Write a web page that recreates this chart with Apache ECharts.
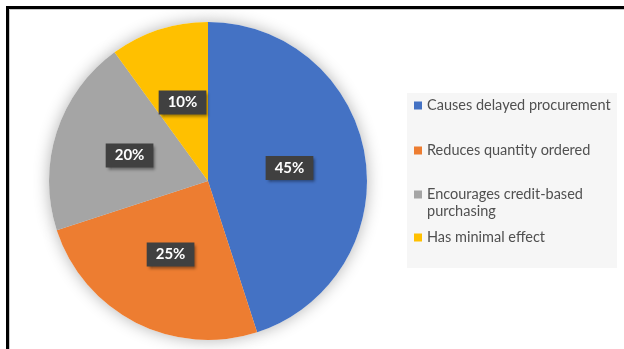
<!DOCTYPE html>
<html>
<head>
<meta charset="utf-8">
<script src="https://cdn.jsdelivr.net/npm/echarts@6/dist/echarts.min.js"></script>
<style>
  html, body { margin: 0; padding: 0; background: #fff; }
  #chart { width: 624px; height: 349px; }
</style>
</head>
<body>
<div id="chart"></div>
<script>
// Survey responses: effect on purchasing
const categories = [
  'Causes delayed procurement',
  'Reduces quantity ordered',
  'Encourages credit-based\npurchasing',
  'Has minimal effect'
];
const shares = [45, 25, 20, 10];
const colors = ['#4472C4', '#ED7D31', '#A5A5A5', '#FFC000'];
const legendTops = [97, 142, 169, 229];

const pieData = categories.map((name, i) => ({ name, value: shares[i] }));
const FONT = 'Lato, "Open Sans", sans-serif';

// Two-line entries keep the swatch beside their first line: an empty
// leading line makes the first text line the vertical middle of the item.
const legends = categories.map((name, i) => ({
  orient: 'vertical',
  left: 414,
  top: legendTops[i],
  padding: 0,
  itemWidth: 8,
  itemHeight: 8,
  itemGap: 0,
  icon: 'rect',
  selectedMode: false,
  data: [name],
  formatter: n => (n.indexOf('\n') >= 0 ? ' \n' + n : n),
  textStyle: {
    fontFamily: FONT,
    fontSize: 14.5,
    lineHeight: 17,
    color: '#505050'
  }
}));

const chart = echarts.init(document.getElementById('chart'), null, { renderer: 'canvas' });
chart.setOption({
  animation: false,
  backgroundColor: '#fff',
  color: colors,
  graphic: [
    { type: 'rect', z: 0, silent: true,
      shape: { x: 407, y: 93, width: 210, height: 175 },
      style: { fill: '#f6f6f6' } },
    { type: 'rect', z: 100, silent: true,
      shape: { x: 9.5, y: 9.5, width: 800, height: 600 },
      style: { fill: 'none', stroke: '#c8c8c8', lineWidth: 1 } },
    { type: 'rect', z: 101, silent: true,
      shape: { x: 7.5, y: 7.5, width: 800, height: 600 },
      style: { fill: 'none', stroke: '#000', lineWidth: 3 } }
  ],
  legend: legends,
  series: [
    {
      // soft shadow underneath the pie
      type: 'pie',
      silent: true,
      z: 1,
      center: [208, 181],
      radius: 159,
      startAngle: 90,
      label: { show: false },
      labelLine: { show: false },
      legendHoverLink: false,
      data: shares.map(v => ({ value: v })),
      itemStyle: {
        color: '#fff',
        shadowBlur: 16,
        shadowColor: 'rgba(0,0,0,0.3)'
      }
    },
    {
      type: 'pie',
      z: 2,
      center: [208, 181],
      radius: 159,
      startAngle: 90,
      data: pieData,
      itemStyle: { borderWidth: 0 },
      label: {
        show: true,
        position: 'inside',
        formatter: '{c}%',
        fontFamily: FONT,
        fontSize: 15,
        fontWeight: 'bold',
        color: '#fff',
        backgroundColor: '#404040',
        padding: [5, 9, 4, 9],
        shadowBlur: 3,
        shadowOffsetX: 2,
        shadowOffsetY: 2,
        shadowColor: 'rgba(0,0,0,0.45)'
      },
      labelLine: { show: false },
      emphasis: { disabled: true }
    }
  ]
});
</script>
</body>
</html>
